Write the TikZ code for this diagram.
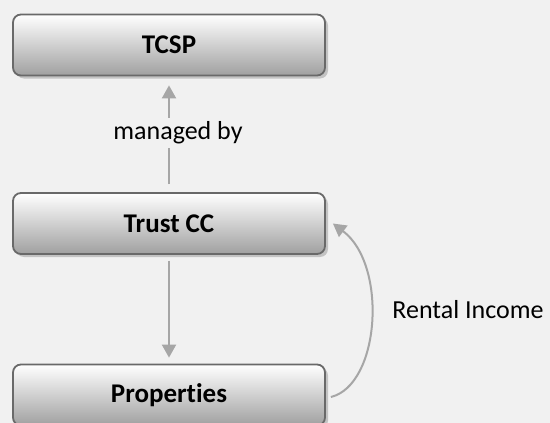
\documentclass[tikz,border=0pt]{standalone}
\usepackage{fontspec}
\setmainfont{Carlito}[Ligatures={NoCommon}]
\usetikzlibrary{arrows.meta,shadows}
\definecolor{bgc}{RGB}{241,241,241}
\definecolor{edgec}{RGB}{105,105,105}
\definecolor{arrc}{RGB}{166,166,166}
\definecolor{botc}{RGB}{160,160,160}
\definecolor{shc}{RGB}{195,195,195}
\tikzset{
  box/.style={draw=edgec, line width=1.8pt, rounded corners=8pt,
    top color=white, bottom color=botc, minimum width=312pt, minimum height=61pt,
    inner sep=0pt, font=\fontsize{27}{30}\selectfont\bfseries,
    drop shadow={shadow xshift=3pt, shadow yshift=-3pt, fill=shc, opacity=1}},
  conn/.style={draw=arrc, line width=2pt, -{Triangle[length=13pt,width=14pt]}},
  lbl/.style={font=\fontsize{26}{30}\selectfont, inner sep=2pt}
}
\begin{document}
\begin{tikzpicture}[x=1pt,y=-1pt]
\useasboundingbox (0,0) rectangle (550,423);
\fill[bgc] (0,0) rectangle (550,423);
\begin{scope}
\clip (0,0) rectangle (550,423);
\node[box] (tcsp) at (169,45) {TCSP};
\node[box] (trust) at (169,223.5) {Trust CC};
\node[box] (prop) at (169,395) {Properties};
\node[lbl, inner sep=4pt] (mb) at (178,133) {managed by};
\node[lbl] (ri) at (468,310) {Rental Income};
\draw[conn, -] ([yshift=8pt]trust.north) -- (trust.north |- mb.south);
\draw[conn] (tcsp.south |- mb.north) -- ([yshift=-9pt]tcsp.south);
\draw[conn] ([yshift=-6pt]trust.south) -- ([yshift=6pt]prop.north);
\draw[conn] ([xshift=5pt,yshift=-2pt]prop.east) .. controls (380,385) and (388,265) .. ([xshift=7pt]trust.east);
\end{scope}
\end{tikzpicture}
\end{document}
